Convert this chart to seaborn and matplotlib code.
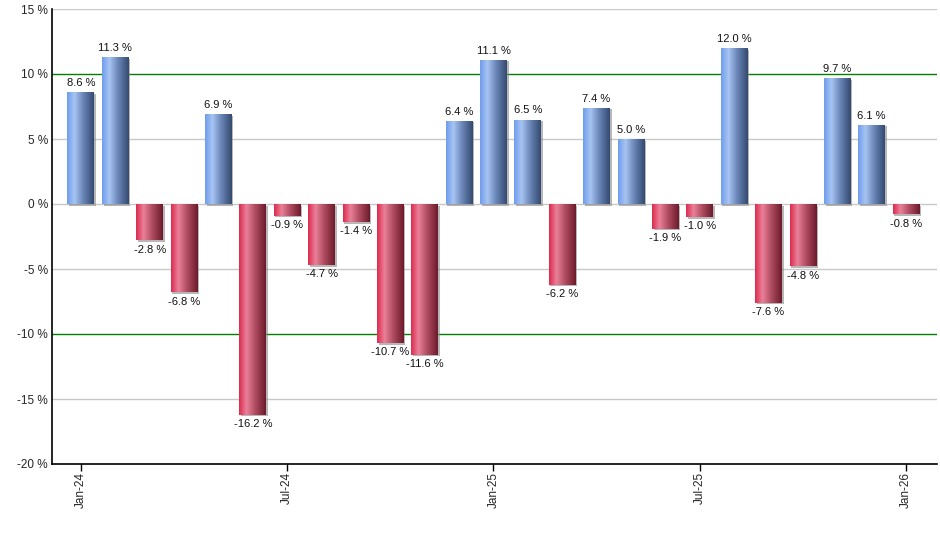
import numpy as np
import pandas as pd
import matplotlib
matplotlib.use("Agg")
import matplotlib.pyplot as plt
import matplotlib.patheffects as pe
from matplotlib.colors import LinearSegmentedColormap
import seaborn as sns

months = ["Jan-24", "Feb-24", "Mar-24", "Apr-24", "May-24", "Jun-24", "Jul-24",
          "Aug-24", "Sep-24", "Oct-24", "Nov-24", "Dec-24", "Jan-25", "Feb-25",
          "Mar-25", "Apr-25", "May-25", "Jun-25", "Jul-25", "Aug-25", "Sep-25",
          "Oct-25", "Nov-25", "Dec-25", "Jan-26"]
returns = [8.6, 11.3, -2.8, -6.8, 6.9, -16.2, -0.9, -4.7, -1.4, -10.7, -11.6, 6.4,
           11.1, 6.5, -6.2, 7.4, 5.0, -1.9, -1.0, 12.0, -7.6, -4.8, 9.7, 6.1, -0.8]
tick_labels = ["Jan-24", "Jul-24", "Jan-25", "Jul-25", "Jan-26"]
y_ticks = [-20, -15, -10, -5, 0, 5, 10, 15]

df = pd.DataFrame({"month": months, "ret": returns})

sns.set_style("white")
plt.rcParams["font.family"] = ["Liberation Sans", "DejaVu Sans"]

blue_cmap = LinearSegmentedColormap.from_list(
    "blue_bar", [(0, "#6e9ded"), (0.28, "#a8c4f2"), (0.6, "#6a86b8"), (1, "#33496f")])
red_cmap = LinearSegmentedColormap.from_list(
    "red_bar", [(0, "#dc2a4d"), (0.28, "#ea8099"), (0.6, "#b04c62"), (1, "#6c1a2b")])

fig = plt.figure(figsize=(9.4, 5.5), dpi=100)
ax = fig.add_axes([52 / 940, 1 - 464 / 550, (937 - 52) / 940, (464 - 9) / 550])

sns.barplot(data=df, x="month", y="ret", order=months, color="white",
            width=0.78, ax=ax, zorder=3)

grad = np.linspace(0, 1, 256).reshape(1, -1)
for bar, val in zip(ax.patches, returns):
    bar.set_edgecolor("none")
    bar.set_path_effects([pe.SimplePatchShadow(offset=(1.2, -1.2), shadow_rgbFace="#888888", alpha=0.6),
                          pe.Normal()])
    x0 = bar.get_x()
    w = bar.get_width()
    y0 = bar.get_y()
    h = bar.get_height()
    im = ax.imshow(grad, cmap=blue_cmap if val >= 0 else red_cmap, aspect="auto",
                   extent=[x0, x0 + w, min(y0, y0 + h), max(y0, y0 + h)], zorder=4)
    im.set_clip_path(bar)
    cx = x0 + w / 2
    if val >= 0:
        ax.annotate(f"{val:.1f} %", (cx, val), xytext=(0, 3), textcoords="offset points",
                    ha="center", va="bottom", fontsize=8, color="#111111", zorder=5)
    else:
        ax.annotate(f"{val:.1f} %", (cx, val), xytext=(0, -3), textcoords="offset points",
                    ha="center", va="top", fontsize=8, color="#111111", zorder=5)

ax.set_xlim(-0.84, 24.9)
ax.set_ylim(-20, 15)
ax.set_yticks(y_ticks)
ax.set_yticklabels([f"{t} %" for t in y_ticks], fontsize=8.5)
for t in y_ticks:
    if abs(t) == 10:
        ax.axhline(t, color="#008000", lw=1, zorder=2)
    elif t != -20:
        ax.axhline(t, color="#c8c8c8", lw=1, zorder=1)

ax.set_xticks([months.index(m) for m in tick_labels])
ax.set_xticklabels(tick_labels, rotation=90, fontsize=8.5)
ax.tick_params(axis="x", direction="out", length=5, width=1, color="black", bottom=True, pad=1)
ax.tick_params(axis="y", length=0, pad=3)
ax.set_xlabel("")
ax.set_ylabel("")

for side in ["top", "right"]:
    ax.spines[side].set_visible(False)
for side in ["left", "bottom"]:
    ax.spines[side].set_color("black")
    ax.spines[side].set_linewidth(1.2)

fig.savefig("out.png", dpi=100)
